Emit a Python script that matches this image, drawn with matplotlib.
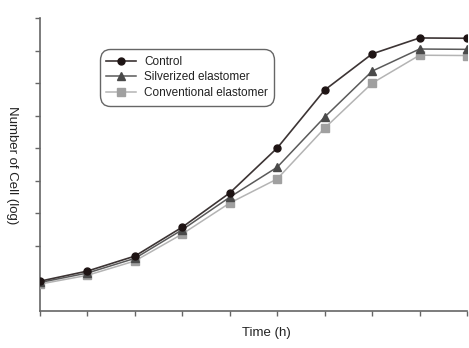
import matplotlib
matplotlib.use("Agg")
import matplotlib.pyplot as plt

# Time points (one per tick) and log cell counts
time_points = [0, 1, 2, 3, 4, 5, 6, 7, 8, 9]
control = [0.92, 1.23, 1.69, 2.58, 3.63, 5.01, 6.79, 7.90, 8.39, 8.38]
silverized = [0.88, 1.17, 1.62, 2.50, 3.50, 4.42, 5.96, 7.37, 8.05, 8.04]
conventional = [0.83, 1.10, 1.54, 2.37, 3.32, 4.06, 5.62, 7.00, 7.86, 7.85]
y_ticks = [2, 3, 4, 5, 6, 7, 8, 9]

plt.rcParams['font.family'] = ['Liberation Sans', 'DejaVu Sans']

fig = plt.figure(figsize=(4.69, 3.48), dpi=100)
ax = fig.add_axes([0.0853, 0.106, 0.9104, 0.842])

ax.plot(time_points, control, color='#3c3434', lw=1.2, marker='o', ms=5,
        mfc='#1e1414', mec='#1e1414', label='Control', zorder=5)
ax.plot(time_points, silverized, color='#5a5a5a', lw=1.1, marker='^', ms=5.5,
        mfc='#4a4a4a', mec='#4a4a4a', label='Silverized elastomer', zorder=4)
ax.plot(time_points, conventional, color='#b4b4b4', lw=1.1, marker='s', ms=5.5,
        mfc='#a0a0a0', mec='#a0a0a0', label='Conventional elastomer', zorder=3)

ax.set_xlim(0, 9)
ax.set_ylim(0, 9)
ax.set_xticks(time_points)
ax.set_yticks(y_ticks)
ax.set_xticklabels([])
ax.set_yticklabels([])
ax.tick_params(direction='out', length=3.5, width=1.0, color='#666666')

for side in ['top', 'right']:
    ax.spines[side].set_visible(False)
for side in ['left', 'bottom']:
    ax.spines[side].set_color('#666666')
    ax.spines[side].set_linewidth(1.2)

ax.set_xlabel('Time (h)', fontsize=9.5, color='#222222')
ax.xaxis.set_label_coords(0.53, -0.055, transform=ax.transAxes)
ax.xaxis.label.set_va('top')
fig.text(0.026, 0.525, 'Number of Cell (log)', rotation=-90, fontsize=9.5,
         color='#222222', ha='center', va='center')

leg = ax.legend(loc='upper left', bbox_to_anchor=(0.14, 0.894), fontsize=8.5,
                frameon=True, fancybox=True, handlelength=2.5, handletextpad=0.7,
                labelspacing=0.32, borderpad=0.55, borderaxespad=0)
frame = leg.get_frame()
frame.set_boxstyle('round', pad=0, rounding_size=0.9)
frame.set_edgecolor('#666666')
frame.set_linewidth(1.0)
frame.set_alpha(1)
for t in leg.get_texts():
    t.set_color('#222222')

fig.savefig('out.png', dpi=100)
